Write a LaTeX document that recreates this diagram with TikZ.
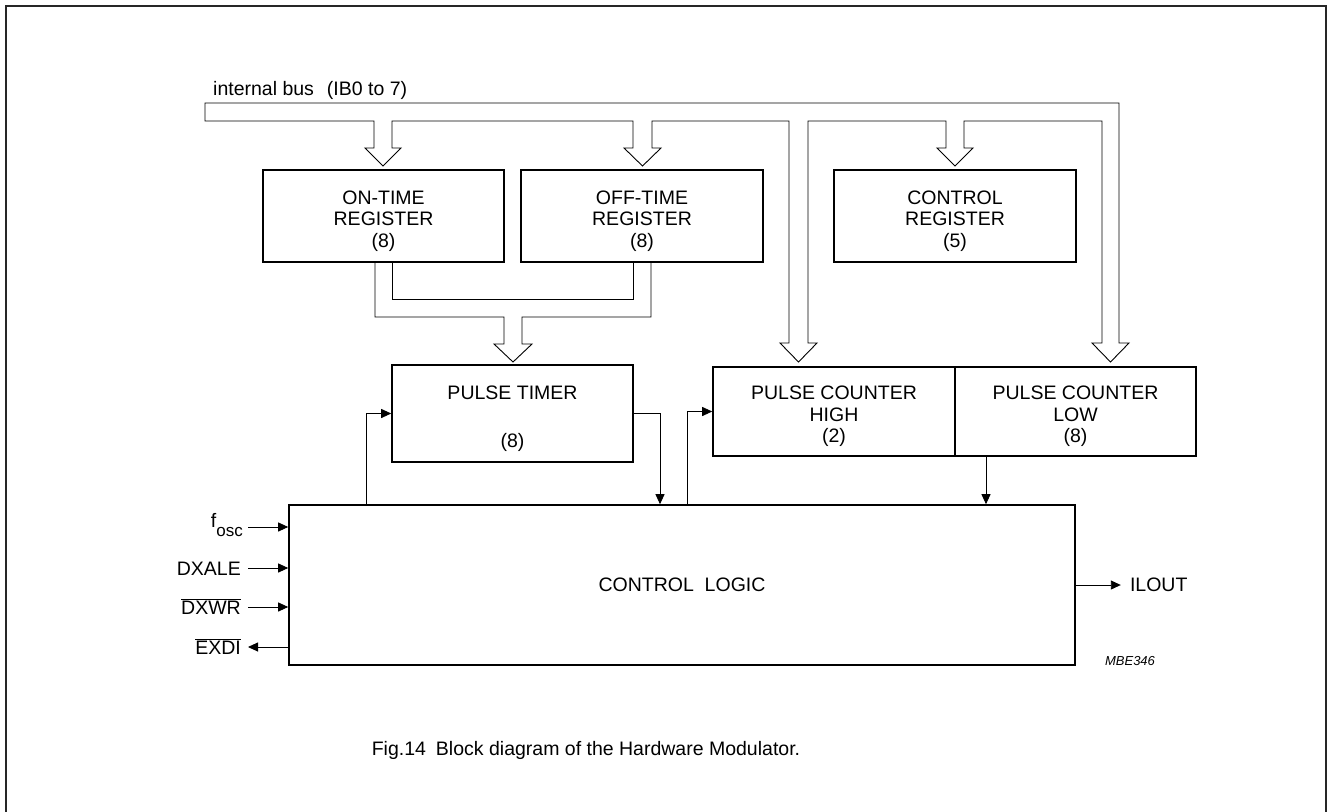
\documentclass[tikz,border=0pt]{standalone}
\usepackage{fontspec}
\setmainfont{Liberation Sans}
\usetikzlibrary{arrows.meta}
\newcommand{\lowstrut}{\rule{0pt}{24pt}}
\tikzset{
  block/.style={draw, line width=1.6pt, align=center, inner sep=0pt, font=\fontsize{19.5}{21.5}\selectfont},
  sig/.style={line width=0.9pt, -{Triangle[length=10pt,width=9pt]}},
  bus/.style={line width=0.9pt, line join=miter},
  lbl/.style={inner sep=0pt, font=\fontsize{19.5}{21.5}\selectfont}
}
\begin{document}
\begin{tikzpicture}[x=1pt,y=-1pt]
	\useasboundingbox (0,0) rectangle (1327,811);
	\draw[line width=1.8pt, black!85] (6,812) -- (6,6) -- (1326,6) -- (1326,812);

	% registers
	\node[block, minimum width=241pt, minimum height=92pt] (ontime) at (383.5,216) {\lowstrut ON-TIME\\REGISTER\\(8)};
	\node[block, minimum width=242pt, minimum height=92pt] (offtime) at (642,216) {\lowstrut OFF-TIME\\REGISTER\\(8)};
	\node[block, minimum width=242pt, minimum height=92pt] (ctrlreg) at (955,216) {\lowstrut CONTROL\\REGISTER\\(5)};

	\node[block, minimum width=241pt, minimum height=97pt] (timer) at (512.5,413.5) {\lowstrut PULSE TIMER\\[27pt](8)};
	\node[block, minimum width=242pt, minimum height=89pt] (pchigh) at (834,411.5) {\lowstrut PULSE COUNTER\\HIGH\\(2)};
	\node[block, minimum width=241pt, minimum height=89pt] (pclow) at (1075.5,411.5) {\lowstrut PULSE COUNTER\\LOW\\(8)};

	\node[block, minimum width=786pt, minimum height=160pt] (logic) at (682,585) {CONTROL\ \ LOGIC};

	% internal bus
	\node[lbl, anchor=base west] (buslbl) at (213,95) {internal bus\hspace{13pt}(IB0 to 7)};
	\draw[bus] (205,103) -- (1119,103) -- (1119,343) -- (1129,343) -- (1110.5,362) -- (1092,343) -- (1102,343) -- (1102,121)
		-- (964,121) -- (964,148) -- (973,148) -- (955,166) -- (937,148) -- (946,148) -- (946,121)
		-- (808,121) -- (808,343) -- (817,343) -- (798.5,362) -- (780,343) -- (789,343) -- (789,121)
		-- (652,121) -- (652,148) -- (661,148) -- (642.5,166) -- (624,148) -- (633,148) -- (633,121)
		-- (392,121) -- (392,148) -- (401,148) -- (383,166) -- (365,148) -- (374,148) -- (374,121)
		-- (205,121) -- cycle;

	\draw[bus] (375,262) -- (375,317) -- (504,317) -- (504,344) -- (494,344) -- (513,362) -- (532,344) -- (522,344) -- (522,317) -- (651,317) -- (651,262);
	\draw[bus] (392,262) -- (392,299) -- (633,299) -- (633,262);

	% signals
	\draw[sig] ([xshift=-316pt]logic.north) |- (timer.west);
	\draw[sig] (timer.east) -| ([xshift=-22pt]logic.north);
	\draw[sig] ([xshift=5pt]logic.north) |- (pchigh.west);
	\draw[sig] ([xshift=-89.5pt]pclow.south) -- ([xshift=-89.5pt]pclow.south |- logic.north);

	\coordinate (in1) at (248,527);
	\coordinate (in2) at (248,568);
	\coordinate (in3) at (248,607);
	\coordinate (in4) at (248,647);
	\node[lbl, anchor=base east] (fosc) at ([xshift=-5pt]in1) {f\raisebox{-9pt}{\fontsize{17}{17}\selectfont osc}};
	\node[lbl, anchor=base east] (dxale) at ([xshift=-7pt,yshift=-7pt]in2) {DXALE};
	\node[lbl, anchor=base east] (dxwr) at ([xshift=-7pt,yshift=-7pt]in3) {\ensuremath{\overline{\hbox{DXWR}}}};
	\node[lbl, anchor=base east] (exdi) at ([xshift=-7pt,yshift=-7pt]in4) {\ensuremath{\overline{\hbox{EXDI}}}};
	\draw[sig] (in1) -- (in1 -| logic.west);
	\draw[sig] (in2) -- (in2 -| logic.west);
	\draw[sig] (in3) -- (in3 -| logic.west);
	\draw[sig] (in4 -| logic.west) -- (in4);

	\draw[sig] (logic.east) -- ++(45,0) coordinate (ilend);
	\node[lbl, anchor=west] (ilout) at ([xshift=9pt]ilend) {ILOUT};

	\node[inner sep=0pt, font=\fontsize{13}{13}\selectfont\itshape] (code) at (1130,661) {MBE346};
	\node[lbl, anchor=base] (caption) at (586,755) {Fig.14\hspace{10pt}Block diagram of the Hardware Modulator.};
\end{tikzpicture}
\end{document}
